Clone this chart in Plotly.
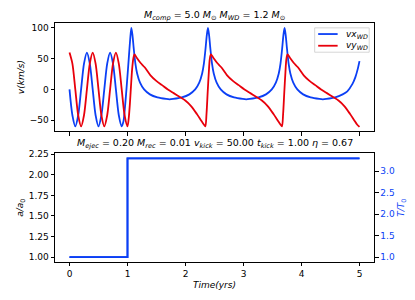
import plotly.graph_objects as go

# ---- data ----
t_vx = [0, 0.05, 0.10, 0.15, 0.20, 0.25, 0.30, 0.35, 0.40, 0.45, 0.50, 0.55, 0.60, 0.65, 0.70,
        0.75, 0.80, 0.85, 0.90, 0.93, 0.96, 0.99, 1.02, 1.045, 1.066,
        1.086, 1.106, 1.136, 1.166, 1.216, 1.286, 1.386, 1.516, 1.666, 1.726, 1.786, 1.937,
        2.067, 2.167, 2.237, 2.287, 2.317, 2.347, 2.367, 2.387,
        2.407, 2.427, 2.457, 2.487, 2.537, 2.607, 2.707, 2.837, 2.987, 3.047, 3.108, 3.258,
        3.388, 3.488, 3.558, 3.608, 3.638, 3.668, 3.688, 3.708,
        3.728, 3.748, 3.778, 3.808, 3.858, 3.928, 4.028, 4.158, 4.308, 4.368, 4.429, 4.579,
        4.709, 4.79, 4.879, 4.929, 4.969, 5.0]
vx = [0, -42, -60, -42, 0, 42, 60, 42, 0, -42, -60, -42, 0, 42, 60,
      42, 0, -42, -60, -52, -25, 10, 48, 80, 100,
      88, 68, 42, 26, 11, 0, -8, -13, -15.5, -16, -15.5, -13,
      -8, 0, 11, 26, 42, 68, 88, 100,
      88, 68, 42, 26, 11, 0, -8, -13, -15.5, -16, -15.5, -13,
      -8, 0, 11, 26, 42, 68, 88, 100,
      88, 68, 42, 26, 11, 0, -8, -13, -15.5, -16, -15.5, -13,
      -8, -3, 9, 20, 33, 46]

t_vy = [0, 0.05, 0.10, 0.15, 0.20, 0.25, 0.30, 0.35, 0.40, 0.45, 0.50, 0.55, 0.60, 0.65, 0.70,
        0.75, 0.80, 0.85, 0.90, 0.95, 1.0,
        1.02, 1.04, 1.06, 1.08, 1.10, 1.12,
        1.156, 1.226, 1.296, 1.396, 1.496, 1.596, 1.696, 1.796, 1.896, 1.996, 2.096, 2.196,
        2.266, 2.316, 2.342,
        2.362, 2.382, 2.402, 2.417, 2.437,
        2.477, 2.547, 2.617, 2.717, 2.817, 2.917, 3.017, 3.117, 3.217, 3.317, 3.417, 3.517,
        3.587, 3.637, 3.663,
        3.683, 3.703, 3.723, 3.738, 3.758,
        3.798, 3.868, 3.938, 4.038, 4.138, 4.238, 4.338, 4.438, 4.538, 4.638, 4.738, 4.838,
        4.908, 4.958, 5.0]
vy = [60, 42, 0, -42, -60, -42, 0, 42, 60, 42, 0, -42, -60, -42, 0,
      42, 60, 42, 0, -42, -60,
      -48, -25, 5, 33, 50, 57,
      52, 43, 36, 23, 14, 7, 0, -6, -12, -18, -27, -40,
      -50, -57, -60,
      -40, -5, 28, 48, 57,
      52, 43, 36, 23, 14, 7, 0, -6, -12, -18, -27, -40,
      -50, -57, -60,
      -40, -5, 28, 48, 57,
      52, 43, 36, 23, 14, 7, 0, -6, -12, -18, -27, -40,
      -50, -57, -61]

t_step = [0, 1, 1, 5]
a_ratio = [1.0, 1.0, 2.2, 2.2]
T_ratio = [1.0, 1.0, 3.3, 3.3]

x_ticks = [0, 1, 2, 3, 4, 5]
v_ticks = [-50, 0, 50, 100]
a_ticks = [1.00, 1.25, 1.50, 1.75, 2.00, 2.25]
T_ticks = [1.0, 1.5, 2.0, 2.5, 3.0]

series_names = ["<i>vx</i><sub><i>WD</i></sub>", "<i>vy</i><sub><i>WD</i></sub>"]

BLUE = "#0b3ff5"
RED = "#e8000b"
FONT = "DejaVu Sans"
FS = 9
FT = 9.5

fig = go.Figure()
fig.add_trace(go.Scatter(x=t_vx, y=vx, mode="lines", name=series_names[0], showlegend=False,
                         line=dict(color=BLUE, width=1.8, shape="spline", smoothing=0.8),
                         xaxis="x", yaxis="y"))
fig.add_trace(go.Scatter(x=t_vy, y=vy, mode="lines", name=series_names[1], showlegend=False,
                         line=dict(color=RED, width=1.8, shape="spline", smoothing=0.8),
                         xaxis="x", yaxis="y"))
fig.add_trace(go.Scatter(x=t_step, y=a_ratio, mode="lines", showlegend=False,
                         line=dict(color=BLUE, width=1.8), xaxis="x2", yaxis="y2"))
fig.add_trace(go.Scatter(x=t_step, y=T_ratio, mode="lines", showlegend=False,
                         line=dict(color=BLUE, width=1.8), xaxis="x2", yaxis="y3"))

axis_common = dict(showline=True, linecolor="black", linewidth=0.9, mirror=True,
                   ticks="outside", ticklen=3.5, tickwidth=0.8, tickcolor="black",
                   showgrid=False, zeroline=False,
                   tickfont=dict(family=FONT, size=FS, color="black"))

top_dom = [0.547, 1.0]
bot_dom = [0.0, 0.454]

# the page body adds an 8px offset, so the figure is 8px smaller than the window
fig.update_layout(
    width=407, height=292,
    margin=dict(l=38, r=41, t=11, b=36),
    paper_bgcolor="white", plot_bgcolor="white",
    font=dict(family=FONT, size=FS, color="black"),
    showlegend=False,
    xaxis=dict(axis_common, domain=[0, 1], anchor="y", range=[-0.25, 5.25],
               tickvals=x_ticks, showticklabels=False),
    yaxis=dict(axis_common, domain=top_dom, anchor="x", range=[-68, 108],
               tickvals=v_ticks,
               title=dict(text="<i>v(km/s)</i>", standoff=3,
                          font=dict(family=FONT, size=FS))),
    xaxis2=dict(axis_common, domain=[0, 1], anchor="y2", range=[-0.25, 5.25],
                tickvals=x_ticks,
                title=dict(text="<i>Time(yrs)</i>", standoff=3,
                           font=dict(family=FONT, size=FS))),
    yaxis2=dict(axis_common, domain=bot_dom, anchor="x2", range=[0.94, 2.26],
                tickvals=a_ticks, tickformat=".2f",
                title=dict(text="<i>a/a</i><sub>0</sub>", standoff=3,
                           font=dict(family=FONT, size=FS))),
    yaxis3=dict(showline=False, ticks="outside", ticklen=3.5, tickwidth=0.8,
                tickcolor="black", showgrid=False, zeroline=False,
                overlaying="y2", side="right", anchor="x2",
                range=[0.885, 3.415], tickvals=T_ticks, tickformat=".1f",
                tickfont=dict(family=FONT, size=FS, color=BLUE)),
)

# right axis title
fig.add_annotation(text="<i>T/T</i><sub>0</sub>", xref="paper", yref="paper",
                   x=1.088, y=bot_dom[1] / 2, xanchor="center", yanchor="middle",
                   textangle=-90, showarrow=False,
                   font=dict(family=FONT, size=FS, color=BLUE))

# titles
fig.add_annotation(
    text="<i>M</i><sub><i>comp</i></sub> = 5.0 <i>M</i><sub>⊙</sub> <i>M</i><sub><i>WD</i></sub> = 1.2 <i>M</i><sub>⊙</sub>",
    xref="paper", yref="paper", x=0.5, y=1.0, yshift=-1.5, xanchor="center", yanchor="bottom",
    showarrow=False, font=dict(family=FONT, size=FT))
fig.add_annotation(
    text="<i>M</i><sub><i>ejec</i></sub> = 0.20 <i>M</i><sub><i>rec</i></sub> = 0.01 "
         "<i>v</i><sub><i>kick</i></sub> = 50.00 <i>t</i><sub><i>kick</i></sub> = 1.00 <i>η</i> = 0.67",
    xref="paper", yref="paper", x=0.5, y=bot_dom[1], yshift=1, xanchor="center", yanchor="bottom",
    showarrow=False, font=dict(family=FONT, size=FT))

# legend (drawn in the top panel's domain coordinates)
fig.add_shape(type="rect", xref="x domain", yref="y domain",
              x0=0.814, x1=0.985, y0=0.73, y1=0.955,
              line=dict(color="#cccccc", width=0.8), fillcolor="rgba(255,255,255,0.85)",
              layer="above")
legend_colors = [BLUE, RED]
legend_y = [0.898, 0.79]
for name, col, ly in zip(series_names, legend_colors, legend_y):
    fig.add_shape(type="line", xref="x domain", yref="y domain",
                  x0=0.825, x1=0.886, y0=ly, y1=ly,
                  line=dict(color=col, width=1.8), layer="above")
    fig.add_annotation(text=name, xref="x domain", yref="y domain",
                       x=0.905, y=ly, xanchor="left", yanchor="middle",
                       showarrow=False, font=dict(family=FONT, size=FS))

fig.write_html("out.html")
